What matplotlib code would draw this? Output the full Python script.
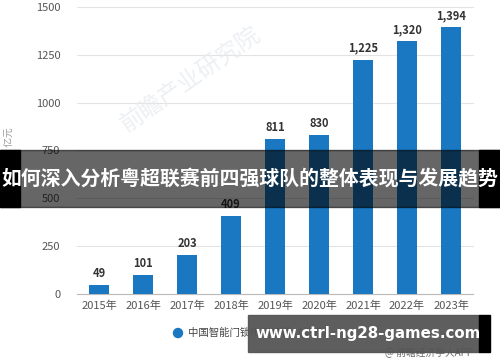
import matplotlib.pyplot as plt
from matplotlib.patches import Rectangle, Ellipse
import numpy as np

plt.rcParams['font.family'] = ['Noto Sans CJK SC', 'DejaVu Sans']

# 数据
years = ['2015年', '2016年', '2017年', '2018年', '2019年', '2020年', '2021年', '2022年', '2023年']
market_size = [49, 101, 203, 409, 811, 830, 1225, 1320, 1394]
y_ticks = [0, 250, 500, 750, 1000, 1250, 1500]

fig = plt.figure(figsize=(5, 3.62), dpi=100)
ax = fig.add_axes([0.154, 0.188, 0.792, 0.793])

x = np.arange(len(years))
bars = ax.bar(x, market_size, width=0.45, color='#1a78c2', zorder=3)
for xi, v in zip(x, market_size):
    ax.text(xi, v + 25, f'{v:,}', ha='center', va='bottom', fontsize=8,
            fontweight='bold', color='#333333', zorder=4)

ax.set_xlim(-0.5, len(years) - 0.5)
ax.set_ylim(0, 1500)
ax.set_yticks(y_ticks)
ax.set_xticks(x, years)
ax.tick_params(axis='both', length=0, labelsize=8, colors='#555555')
ax.tick_params(axis='x', pad=5)
ax.tick_params(axis='y', pad=12)
ax.grid(axis='y', color='#e3e3e3', linewidth=0.8, zorder=0, clip_on=False)
for s in ['top', 'right', 'left']:
    ax.spines[s].set_visible(False)
ax.spines['bottom'].set_color('#bbbbbb')
ax.set_ylabel('单位：亿元', fontsize=7, color='#999999', labelpad=16)

# 水印
fig.text(0.38, 0.78, '前瞻产业研究院', fontsize=17, color='#e6eaef', rotation=35,
         ha='center', va='center', alpha=0.7, zorder=0)

# 图例与来源
fig.patches.append(Ellipse((0.356, 0.08), 0.018, 0.025, transform=fig.transFigure,
                           color='#1a78c2'))
fig.text(0.376, 0.08, '中国智能门锁市场规模（亿元）', fontsize=7.5, color='#444444', va='center')
fig.text(0.946, 0.025, '@ 前瞻经济学人APP', fontsize=7, color='#666666', ha='right', va='center')

# 标题横幅
fig.patches.append(Rectangle((0, 0.428), 1, 0.157, transform=fig.transFigure,
                             color='black', alpha=0.6, zorder=10))
fig.patches.append(Rectangle((0, 0.428), 0.04, 0.157, transform=fig.transFigure,
                             color='black', zorder=10))
fig.patches.append(Rectangle((0.958, 0.428), 0.042, 0.157, transform=fig.transFigure,
                             color='black', zorder=10))
fig.text(0.5, 0.507, '如何深入分析粤超联赛前四强球队的整体表现与发展趋势', fontsize=14.3,
         fontweight='bold', color='white', ha='center', va='center', zorder=11)

# 网址横幅
fig.patches.append(Rectangle((0.496, 0.028), 0.462, 0.102, transform=fig.transFigure,
                             color='#555555', alpha=0.95, zorder=10))
fig.patches.append(Rectangle((0.958, 0.028), 0.022, 0.102, transform=fig.transFigure,
                             color='black', zorder=10))
fig.text(0.736, 0.08, 'www.ctrl-ng28-games.com', fontsize=10.8, fontweight='bold',
         color='white', ha='center', va='center', zorder=11, family='DejaVu Sans')

plt.savefig('out.png', dpi=100)
